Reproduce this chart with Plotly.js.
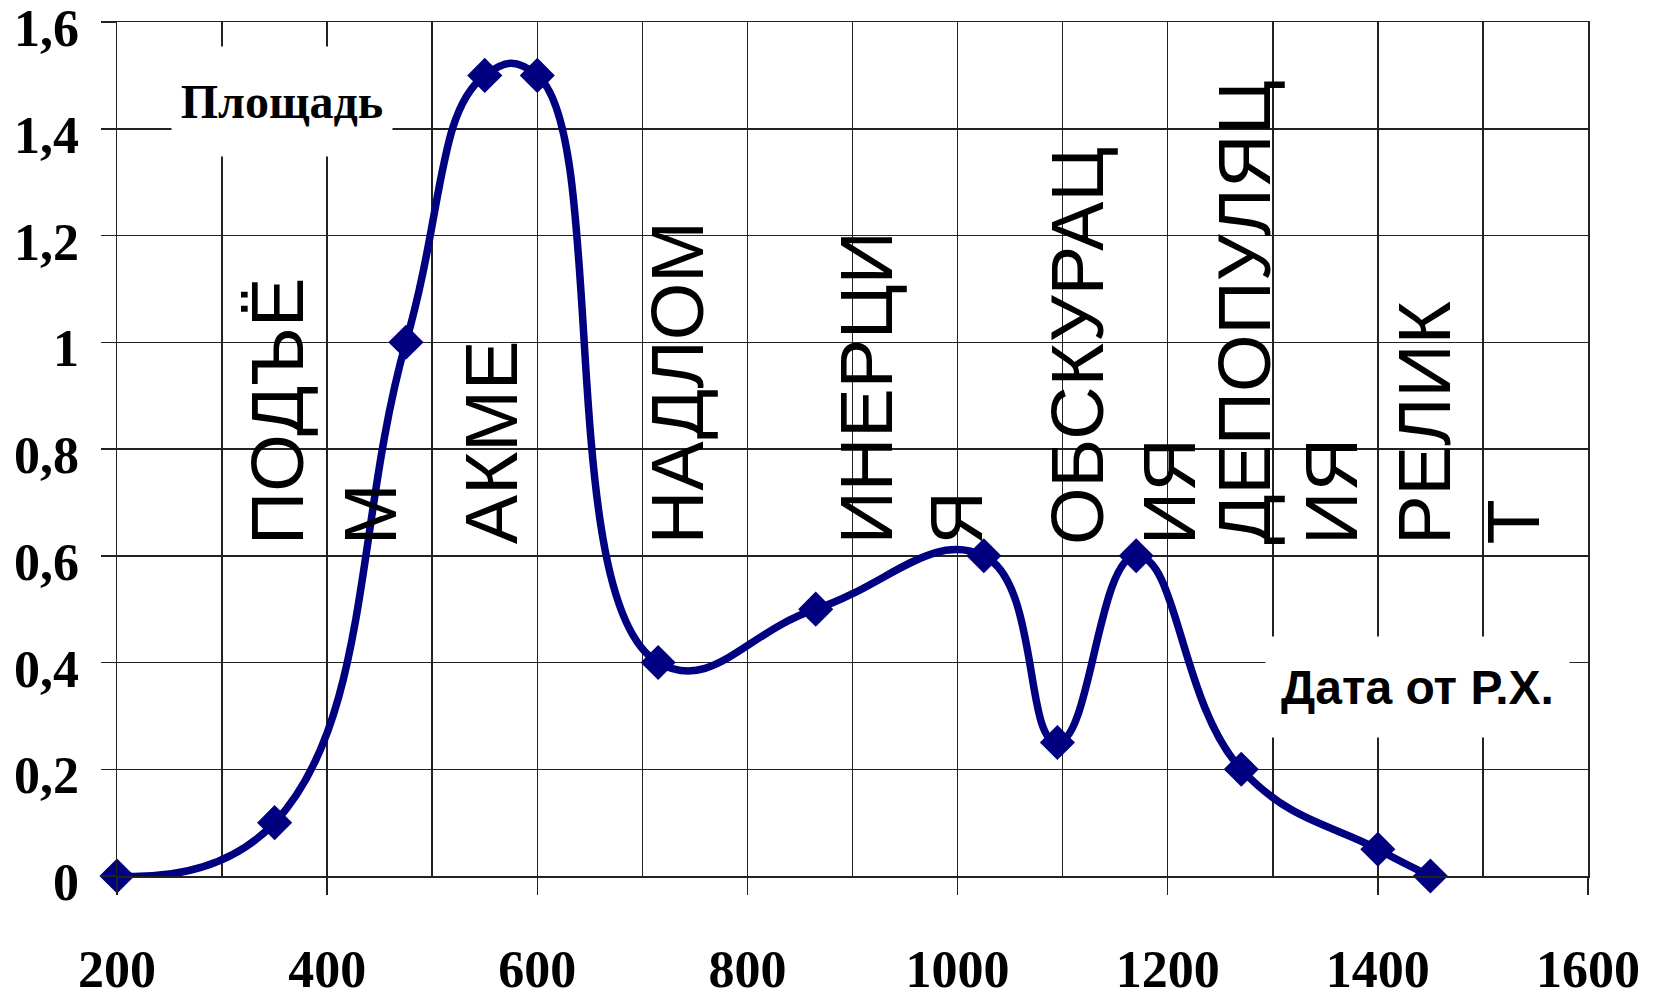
<!DOCTYPE html>
<html>
<head>
<meta charset="utf-8">
<script src="https://cdn.plot.ly/plotly-3.0.1.min.js"></script>
<style>
  html, body { margin: 0; padding: 0; background: #ffffff; }
  #chart { width: 1657px; height: 997px; }
</style>
</head>
<body>
<div id="chart"></div>
<script>
// ---- data ----
const years = [200, 350, 475, 550, 600, 715, 865, 1025, 1095, 1170, 1270, 1400, 1450];
const area  = [0, 0.1, 1.0, 1.5, 1.5, 0.4, 0.5, 0.6, 0.25, 0.6, 0.2, 0.05, 0];

const xTickVals = [200, 400, 600, 800, 1000, 1200, 1400, 1600];
const xTickText = ['200', '400', '600', '800', '1000', '1200', '1400', '1600'];
const yTickVals = [0, 0.2, 0.4, 0.6, 0.8, 1.0, 1.2, 1.4, 1.6];
const yTickText = ['0', '0,2', '0,4', '0,6', '0,8', '1', '1,2', '1,4', '1,6'];

const yTitle = 'Площадь';
const xTitle = 'Дата от Р.Х.';

// phase names, split in lines as in the picture
const phaseLines = [
  ['ПОДЪЁ', 'М'],
  ['АКМЕ'],
  ['НАДЛОМ'],
  ['ИНЕРЦИ', 'Я'],
  ['ОБСКУРАЦ', 'ИЯ'],
  ['ДЕПОПУЛЯЦ', 'ИЯ'],
  ['РЕЛИК', 'Т']
];

// ---- layout placement of the phase label columns (x in axis units) ----
const phaseColumnX = [
  [352, 441],
  [556],
  [733],
  [913, 999],
  [1114, 1201],
  [1273, 1356],
  [1445, 1529]
];
const phaseBaseY = 0.617;

const NAVY = '#000080';
const GRID = '#222222';

const annotations = [];
phaseLines.forEach((lines, i) => {
  lines.forEach((t, j) => {
    annotations.push({
      x: phaseColumnX[i][j], y: phaseBaseY, xref: 'x', yref: 'y',
      text: t, showarrow: false, textangle: -90,
      xanchor: 'center', yanchor: 'bottom',
      font: { family: 'Liberation Sans, Arial, sans-serif', size: 74, color: '#000000' }
    });
  });
});

annotations.push({
  x: 357, y: 1.452, xref: 'x', yref: 'y',
  text: yTitle, showarrow: false,
  xanchor: 'center', yanchor: 'middle',
  width: 220, height: 109, bgcolor: '#ffffff', borderpad: 0,
  font: { family: 'Liberation Serif, Times New Roman, serif', size: 48, color: '#000000', weight: 'bold' }
});
annotations.push({
  x: 1437.6, y: 0.355, xref: 'x', yref: 'y',
  text: xTitle, showarrow: false,
  xanchor: 'center', yanchor: 'middle',
  width: 303, height: 100, bgcolor: '#ffffff', borderpad: 0,
  font: { family: 'Liberation Sans, Arial, sans-serif', size: 48, color: '#000000', weight: 'bold' }
});

const trace = {
  x: years, y: area,
  type: 'scatter', mode: 'lines+markers',
  line: { color: NAVY, width: 7.5, shape: 'spline', smoothing: 1.3 },
  marker: { symbol: 'diamond', size: 27, color: NAVY, line: { width: 0 } },
  cliponaxis: false,
  hoverinfo: 'x+y'
};

const tickFont = { family: 'Liberation Serif, Times New Roman, serif', size: 52, color: '#000000', weight: 'bold' };

const layout = {
  width: 1657, height: 997,
  margin: { l: 117, r: 69, t: 22, b: 121 },
  paper_bgcolor: '#ffffff', plot_bgcolor: '#ffffff',
  showlegend: false,
  separators: ', ',
  xaxis: {
    range: [200, 1600],
    tickmode: 'array', tickvals: xTickVals, ticktext: xTickText,
    ticks: 'outside', ticklen: 17, tickwidth: 1.5, tickcolor: GRID,
    showgrid: true, gridcolor: GRID, gridwidth: 1.5,
    minor: { dtick: 100, tick0: 200, showgrid: true, gridcolor: GRID, gridwidth: 1.5, ticks: '' },
    showline: true, mirror: true, linecolor: GRID, linewidth: 1.5,
    zeroline: false,
    tickfont: tickFont,
    ticklabelstandoff: 30,
    ticklabeloverflow: 'allow',
    fixedrange: true
  },
  yaxis: {
    range: [0, 1.6],
    tickmode: 'array', tickvals: yTickVals, ticktext: yTickText,
    ticks: 'outside', ticklen: 15, tickwidth: 1.5, tickcolor: GRID,
    showgrid: true, gridcolor: GRID, gridwidth: 1.5,
    showline: true, mirror: true, linecolor: GRID, linewidth: 1.5,
    zeroline: false,
    tickfont: tickFont,
    ticklabelstandoff: 11,
    ticklabelshift: 6,
    ticklabeloverflow: 'allow',
    fixedrange: true
  },
  annotations: annotations
};

Plotly.newPlot('chart', [trace], layout, { displayModeBar: false, staticPlot: true });
</script>
</body>
</html>
